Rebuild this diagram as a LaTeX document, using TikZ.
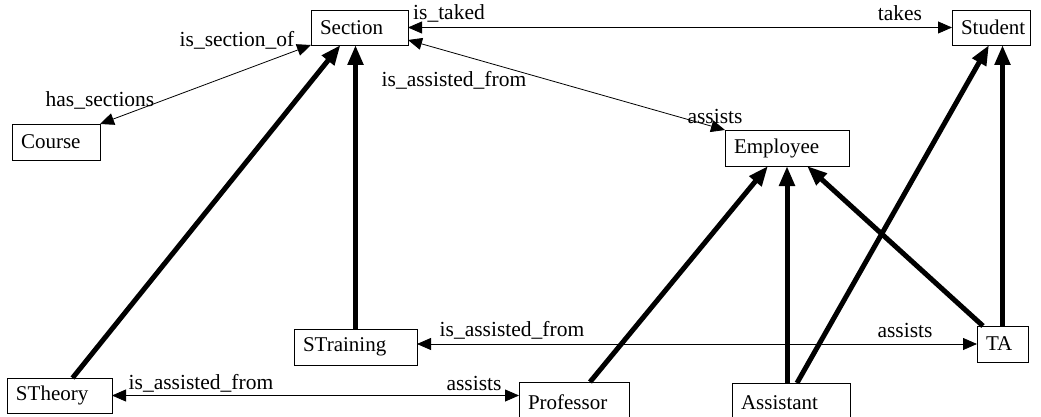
\documentclass[tikz,border=0pt]{standalone}
\usepackage{fontspec}
\setmainfont{Liberation Serif}
\usetikzlibrary{arrows.meta}

\tikzset{
  cls/.style={draw, line width=0.8pt, anchor=north west, inner xsep=9pt, inner ysep=0pt,
              align=left, minimum height=35pt, outer sep=0pt, font=\fontsize{21}{23}\selectfont},
  lbl/.style={inner sep=0pt, font=\fontsize{21.5}{23}\selectfont},
  rel/.style={line width=0.8pt, {Triangle[length=14pt,width=12pt]}-{Triangle[length=14pt,width=12pt]}},
  isa/.style={line width=5pt, -{Triangle[length=20pt,width=15pt]}}
}

\begin{document}
\begin{tikzpicture}[x=1pt, y=-1pt]
	\useasboundingbox (0,0) rectangle (1041,417);

	% classes
	\node[cls, text width=79pt] (section) at (311,10) {Section};
	\node[cls, text width=60pt] (student) at (952,10) {Student};
	\node[cls, text width=70pt, minimum height=36pt] (course) at (12,124) {Course};
	\node[cls, text width=106pt, minimum height=36pt] (employee) at (725,130) {Employee};
	\node[cls, text width=105pt, minimum height=36pt] (straining) at (294,329) {STraining};
	\node[cls, text width=33pt, minimum height=36pt] (ta) at (977,326) {TA};
	\node[cls, text width=87pt] (stheory) at (7,378) {STheory};
	\node[cls, text width=92pt, minimum height=40pt] (professor) at (519,382) {Professor};
	\node[cls, text width=100pt, minimum height=40pt] (assistant) at (732,383) {Assistant};

	% role names
	\node[lbl] (l_taked) at (449,13) {is\_taked};
	\node[lbl] (l_takes) at (900,13) {takes};
	\node[lbl] (l_secof) at (237,40) {is\_section\_of};
	\node[lbl] (l_hassec) at (100,100) {has\_sections};
	\node[lbl] (l_asfrom1) at (454,80) {is\_assisted\_from};
	\node[lbl] (l_assists1) at (715,116) {assists};
	\node[lbl] (l_asfrom2) at (512,330) {is\_assisted\_from};
	\node[lbl] (l_assists2) at (905,330) {assists};
	\node[lbl] (l_asfrom3) at (201,383) {is\_assisted\_from};
	\node[lbl] (l_assists3) at (474,383) {assists};

	% associations
	\draw[rel] (section.east) -- (student.west);
	\draw[rel] (section.south west) -- (course.north east);
	\draw[rel] ([yshift=5pt]section.south east) -- (employee.north west);
	\draw[rel] (ta.west -| straining.east) -- (ta.west);
	\draw[rel] (stheory.east) -- (stheory.east -| professor.west);

	% generalisations
	\draw[isa] ([xshift=13pt]stheory.north) -- ([xshift=-19pt]section.south);
	\draw[isa] (straining.north) -- (straining.north |- section.south);
	\draw[isa] ([xshift=16pt]professor.north) -- ([xshift=-19pt]employee.south);
	\draw[isa] (employee.south |- assistant.north) -- (employee.south);
	\draw[isa] ([xshift=6pt]ta.north west) -- ([xshift=20pt]employee.south);
	\draw[isa] ([xshift=6pt]assistant.north) -- ([xshift=-2pt]student.south);
	\draw[isa] (ta.north) -- (ta.north |- student.south);
\end{tikzpicture}
\end{document}
